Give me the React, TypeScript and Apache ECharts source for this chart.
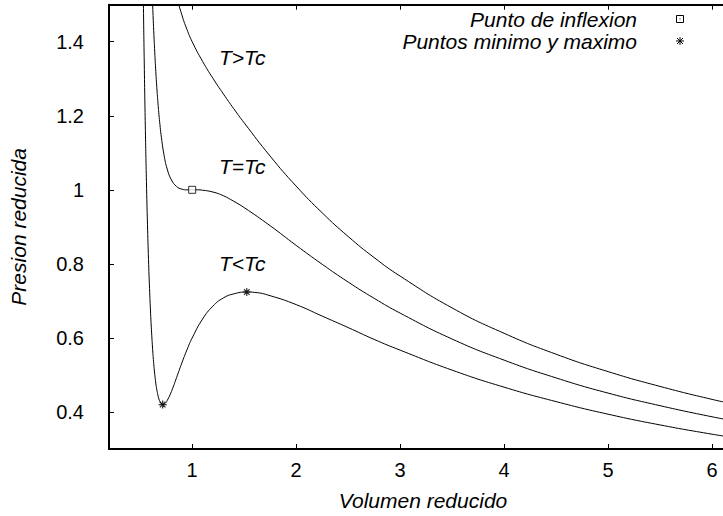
import { useEffect, useRef } from "react";
import * as echarts from "echarts";

// Reduced van der Waals isotherms: reduced volume v = V/Vc, reduced pressure p = P/Pc.

// T < Tc isotherm
const volBelow = [
  0.52, 0.53, 0.54, 0.55, 0.56, 0.57, 0.58, 0.59, 0.6, 0.61, 0.62, 0.63, 0.64, 0.65, 0.66,
  0.67, 0.68, 0.69, 0.7, 0.72, 0.74, 0.76, 0.8, 0.85, 0.9, 0.95, 1.0, 1.1, 1.2, 1.3, 1.4,
  1.525, 1.6, 1.75, 2.0, 2.25, 2.5, 2.75, 3.0, 3.5, 4.0, 4.5, 5.0, 5.5, 6.0, 6.25,
];
const presBelow = [
  1.762, 1.523, 1.325, 1.16, 1.022, 0.907, 0.812, 0.733, 0.667, 0.613, 0.568, 0.531, 0.502,
  0.478, 0.46, 0.446, 0.435, 0.428, 0.423, 0.42, 0.423, 0.431, 0.455, 0.493, 0.532, 0.568,
  0.6, 0.651, 0.686, 0.708, 0.719, 0.724, 0.723, 0.714, 0.69, 0.659, 0.628, 0.596, 0.567,
  0.513, 0.467, 0.428, 0.394, 0.365, 0.34, 0.329,
];

// T = Tc isotherm
const volCritical = [
  0.6, 0.61, 0.62, 0.63, 0.64, 0.65, 0.66, 0.67, 0.68, 0.69, 0.7, 0.73, 0.76, 0.8, 0.85, 0.9,
  0.95, 1.0, 1.05, 1.1, 1.2, 1.3, 1.4, 1.5, 1.75, 2.0, 2.25, 2.5, 2.75, 3.0, 3.5, 4.0, 4.5,
  5.0, 5.5, 6.0, 6.25,
];
const presCritical = [
  1.667, 1.577, 1.498, 1.43, 1.372, 1.32, 1.276, 1.238, 1.204, 1.176, 1.15, 1.093, 1.056,
  1.027, 1.009, 1.002, 1.0, 1.0, 1.0, 0.999, 0.994, 0.984, 0.969, 0.952, 0.903, 0.85, 0.799,
  0.751, 0.707, 0.667, 0.597, 0.54, 0.492, 0.451, 0.417, 0.387, 0.374,
];

// T > Tc isotherm
const volAbove = [
  0.8, 0.85, 0.9, 0.95, 1.0, 1.1, 1.2, 1.3, 1.4, 1.5, 1.75, 2.0, 2.25, 2.5, 2.75, 3.0, 3.5,
  4.0, 4.5, 5.0, 5.5, 6.0, 6.25,
];
const presAbove = [
  1.598, 1.525, 1.473, 1.433, 1.4, 1.347, 1.301, 1.259, 1.219, 1.181, 1.091, 1.01, 0.938,
  0.874, 0.817, 0.767, 0.681, 0.6125, 0.556, 0.509, 0.469, 0.434, 0.419,
];

// Critical (inflection) point and the spinodal minimum / maximum of the T < Tc isotherm
const inflectionVol = [1.0];
const inflectionPres = [1.0];
const extremaVol = [0.716, 1.525];
const extremaPres = [0.42, 0.724];

const xTicks = [1, 2, 3, 4, 5, 6];
const yTicks = [0.4, 0.6, 0.8, 1, 1.2, 1.4];

const curveLabels = ["T>Tc", "T=Tc", "T<Tc"];
const legendLabels = ["Punto de inflexion", "Puntos minimo y maximo"];

const pairs = (xs: number[], ys: number[]) => xs.map((x, i) => [x, ys[i]]);

const SANS = "'Liberation Sans', Arial, sans-serif";
const ASTERISK = "path://M0,5L10,5M5,0L5,10M1.5,1.5L8.5,8.5M1.5,8.5L8.5,1.5";

export default function App() {
  const ref = useRef<HTMLDivElement>(null);

  useEffect(() => {
    if (!ref.current) return;
    const chart = echarts.init(ref.current, null, { renderer: "svg" });

    const curve = (name: string, xs: number[], ys: number[]) => ({
      name,
      type: "line",
      data: pairs(xs, ys),
      smooth: true,
      symbol: "none",
      clip: true,
      lineStyle: { color: "#000", width: 1 },
      z: 2,
    });

    const italic = {
      fontFamily: SANS,
      fontStyle: "italic",
      fontSize: 21,
      fill: "#000",
    };

    const legendX = 680;
    const legendY = [19, 41];

    chart.setOption({
      animation: false,
      backgroundColor: "#fff",
      grid: { left: 109, top: 4.7, right: 0, bottom: 67 },
      xAxis: [
        {
          type: "value",
          min: 0.2,
          max: 6.24,
          position: "bottom",
          name: "Volumen reducido",
          nameLocation: "middle",
          nameGap: 41,
          nameTextStyle: { fontFamily: SANS, fontStyle: "italic", fontSize: 21, color: "#000" },
          axisLine: { show: true, onZero: false, lineStyle: { color: "#000", width: 2 } },
          axisTick: { show: true, inside: true, length: 5, customValues: xTicks, lineStyle: { color: "#000", width: 1 } },
          axisLabel: {
            show: true,
            customValues: xTicks,
            formatter: (v: number) => String(v),
            margin: 11,
            fontFamily: SANS,
            fontSize: 20,
            color: "#000",
          },
          splitLine: { show: false },
        },
        {
          type: "value",
          min: 0.2,
          max: 6.24,
          position: "top",
          axisLine: { show: true, onZero: false, lineStyle: { color: "#000", width: 2 } },
          axisTick: { show: true, inside: true, length: 5, customValues: xTicks, lineStyle: { color: "#000", width: 1 } },
          axisLabel: { show: false },
          splitLine: { show: false },
        },
      ],
      yAxis: {
        type: "value",
        min: 0.3,
        max: 1.5,
        name: "Presion reducida",
        nameLocation: "middle",
        nameGap: 80,
        nameTextStyle: { fontFamily: SANS, fontStyle: "italic", fontSize: 21, color: "#000" },
        axisLine: { show: true, onZero: false, lineStyle: { color: "#000", width: 2 } },
        axisTick: { show: true, inside: true, length: 5, customValues: yTicks, lineStyle: { color: "#000", width: 1 } },
        axisLabel: {
          show: true,
          customValues: yTicks,
          formatter: (v: number) => String(v),
          margin: 25,
          fontFamily: SANS,
          fontSize: 20,
          color: "#000",
        },
        splitLine: { show: false },
      },
      series: [
        curve("T<Tc", volBelow, presBelow),
        curve("T=Tc", volCritical, presCritical),
        curve("T>Tc", volAbove, presAbove),
        {
          name: legendLabels[0],
          type: "scatter",
          data: pairs(inflectionVol, inflectionPres),
          symbol: "rect",
          symbolSize: 7,
          itemStyle: { color: "#fff", borderColor: "#000", borderWidth: 1 },
          z: 3,
        },
        {
          name: legendLabels[1],
          type: "scatter",
          data: pairs(extremaVol, extremaPres),
          symbol: ASTERISK,
          symbolSize: 8,
          itemStyle: { color: "none", borderColor: "#000", borderWidth: 1.2 },
          z: 3,
        },
      ],
      graphic: [
        { type: "text", left: 219, top: 47, style: { ...italic, text: curveLabels[0] } },
        { type: "text", left: 219, top: 156, style: { ...italic, text: curveLabels[1] } },
        { type: "text", left: 219, top: 253, style: { ...italic, text: curveLabels[2] } },
        {
          type: "text",
          x: 637,
          y: legendY[0],
          style: { ...italic, text: legendLabels[0], align: "right", verticalAlign: "middle" },
        },
        {
          type: "text",
          x: 637,
          y: legendY[1],
          style: { ...italic, text: legendLabels[1], align: "right", verticalAlign: "middle" },
        },
        {
          type: "rect",
          shape: { x: legendX - 3.5, y: legendY[0] - 3.5, width: 7, height: 7 },
          style: { fill: "#fff", stroke: "#000", lineWidth: 1 },
        },
        {
          type: "rect",
          shape: { x: legendX - 0.5, y: legendY[0] - 0.5, width: 1, height: 1 },
          style: { fill: "#000" },
        },
        {
          type: "group",
          x: legendX,
          y: legendY[1],
          children: [
            { type: "line", shape: { x1: -4, y1: 0, x2: 4, y2: 0 }, style: { stroke: "#000", lineWidth: 1 } },
            { type: "line", shape: { x1: 0, y1: -4, x2: 0, y2: 4 }, style: { stroke: "#000", lineWidth: 1 } },
            { type: "line", shape: { x1: -3, y1: -3, x2: 3, y2: 3 }, style: { stroke: "#000", lineWidth: 1 } },
            { type: "line", shape: { x1: -3, y1: 3, x2: 3, y2: -3 }, style: { stroke: "#000", lineWidth: 1 } },
          ],
        },
      ],
    });

    return () => chart.dispose();
  }, []);

  return (
    <div
      ref={ref}
      style={{ position: "fixed", left: 0, top: 0, width: 737, height: 516, background: "#fff" }}
    />
  );
}
